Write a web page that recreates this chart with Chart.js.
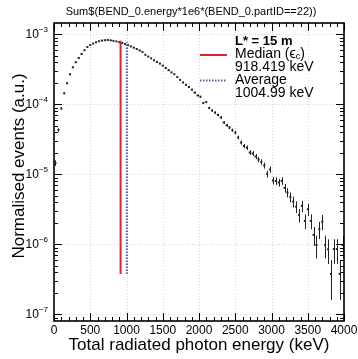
<!DOCTYPE html>
<html>
<head>
<meta charset="utf-8">
<script src="https://cdn.jsdelivr.net/npm/chart.js@4.4.1/dist/chart.umd.min.js"></script>
<style>
  html, body { margin: 0; padding: 0; background: #fff; }
  #c { display: block; }
</style>
</head>
<body>
<canvas id="c" width="358" height="359"></canvas>
<script>
// histogram: 100 bins of 40 keV, 0..4000 keV
const binWidth = 40;
const binValues = [
  1.46e-5, 4.32e-5, 8.77e-5, 1.445e-4, 2.01e-4, 2.70e-4, 3.40e-4, 4.01e-4, 4.62e-4, 5.27e-4,
  5.95e-4, 6.63e-4, 7.08e-4, 7.44e-4, 7.74e-4, 8.00e-4, 8.18e-4, 8.29e-4, 8.35e-4, 8.24e-4,
  8.10e-4, 7.97e-4, 7.79e-4, 7.56e-4, 7.32e-4, 7.03e-4, 6.76e-4, 6.48e-4, 6.21e-4, 5.91e-4,
  5.62e-4, 5.13e-4, 4.83e-4, 4.56e-4, 4.28e-4, 4.05e-4, 3.84e-4, 3.59e-4, 3.32e-4, 3.09e-4,
  2.87e-4, 2.71e-4, 2.47e-4, 2.25e-4, 2.06e-4, 1.91e-4, 1.78e-4, 1.63e-4, 1.48e-4, 1.345e-4,
  1.29e-4, 1.05e-4, 1.085e-4, 8.91e-5, 8.20e-5, 7.66e-5, 7.08e-5, 6.52e-5, 5.53e-5, 5.04e-5,
  4.68e-5, 4.29e-5, 3.97e-5, 3.38e-5, 2.86e-5, 2.55e-5, 2.41e-5, 2.06e-5, 2.00e-5, 1.81e-5,
  1.64e-5, 1.51e-5, 1.345e-5, 1.02e-5, 1.18e-5, 8.2e-6, 8.07e-6, 7.69e-6, 8.1e-6, 6.41e-6,
  5.53e-6, 4.77e-6, 4.09e-6, 3.47e-6, 2.64e-6, 3.55e-6, 2.17e-6, 3.18e-6, 2.17e-6, 1.37e-6,
  9.84e-7, 1.65e-6, 2.12e-6, 9.84e-7, 8.54e-7, 3.79e-7, 8.6e-7, 8.6e-7, 3.79e-7, 9.84e-7
];
const eventWeight = 1.26e-7;   // weight of one entry, for sqrt(N) errors

const medianE = 918.419;
const averageE = 1004.99;
const medianSpan = [3.79e-7, 8.16e-4];
const averageSpan = [3.79e-7, 7.74e-4];

const xRange = [0, 4000];
const yRange = [8.07e-8, 1.459e-3];
const xMajor = [0, 500, 1000, 1500, 2000, 2500, 3000, 3500, 4000];
const xMinorStep = 100;
const yDecades = [-7, -6, -5, -4, -3];

const titleText = 'Sum$(BEND_0.energy*1e6*(BEND_0.partID==22))';
const xTitle = 'Total radiated photon energy (keV)';
const yTitle = 'Normalised events (a.u.)';
const FONT = '"Liberation Sans", Arial, Helvetica, sans-serif';

const points = binValues.map((v, i) => ({x: (i + 0.5) * binWidth, y: v}));

// ROOT-like frame, grid, ticks and texts
const rootStyle = {
  id: 'rootStyle',
  beforeDatasetsDraw(chart) {
    const {ctx, chartArea: a, scales: {x, y}} = chart;
    ctx.save();
    ctx.strokeStyle = '#d4d4d4';
    ctx.lineWidth = 1;
    ctx.setLineDash([1, 2]);
    xMajor.slice(1, -1).forEach(v => {
      const px = Math.round(x.getPixelForValue(v)) + 0.5;
      ctx.beginPath(); ctx.moveTo(px, a.top); ctx.lineTo(px, a.bottom); ctx.stroke();
    });
    yDecades.forEach(e => {
      const py = Math.round(y.getPixelForValue(Math.pow(10, e))) + 0.5;
      ctx.beginPath(); ctx.moveTo(a.left, py); ctx.lineTo(a.right, py); ctx.stroke();
    });
    ctx.setLineDash([]);

    // vertical error bars
    ctx.strokeStyle = '#222';
    ctx.lineWidth = 1;
    ctx.beginPath();
    points.forEach(p => {
      const err = Math.sqrt(p.y * eventWeight);
      const px = Math.round(x.getPixelForValue(p.x)) + 0.5;
      const top = y.getPixelForValue(p.y + err);
      const bot = p.y - err > 0 ? y.getPixelForValue(p.y - err) : a.bottom;
      ctx.moveTo(px, top); ctx.lineTo(px, Math.min(bot, a.bottom));
    });
    ctx.stroke();
    ctx.restore();
  },
  afterDraw(chart) {
    const {ctx, chartArea: a, scales: {x, y}} = chart;
    ctx.save();
    ctx.strokeStyle = '#000';
    ctx.fillStyle = '#000';

    // ticks
    ctx.lineWidth = 1;
    ctx.beginPath();
    for (let v = xRange[0]; v <= xRange[1]; v += xMinorStep) {
      const px = Math.round(x.getPixelForValue(v)) + 0.5;
      const len = v % 500 === 0 ? 8 : 4;
      ctx.moveTo(px, a.bottom); ctx.lineTo(px, a.bottom - len);
      ctx.moveTo(px, a.top); ctx.lineTo(px, a.top + len);
    }
    for (let e = -8; e <= -3; e++) {
      for (let m = 1; m <= 9; m++) {
        const v = m * Math.pow(10, e);
        if (v < yRange[0] || v > yRange[1]) continue;
        const py = Math.round(y.getPixelForValue(v)) + 0.5;
        const len = m === 1 ? 8 : 4;
        ctx.moveTo(a.left, py); ctx.lineTo(a.left + len, py);
        ctx.moveTo(a.right, py); ctx.lineTo(a.right - len, py);
      }
    }
    ctx.stroke();

    // frame
    ctx.lineWidth = 1.6;
    ctx.strokeRect(a.left, a.top, a.right - a.left, a.bottom - a.top);

    // x tick labels
    ctx.font = '12px ' + FONT;
    ctx.textAlign = 'center';
    ctx.textBaseline = 'middle';
    xMajor.forEach(v => ctx.fillText(String(v), x.getPixelForValue(v), a.bottom + 10));

    // y tick labels 10^e
    yDecades.forEach(e => {
      const py = y.getPixelForValue(Math.pow(10, e));
      ctx.font = '8px ' + FONT;
      ctx.textAlign = 'right';
      const sup = '\u2212' + Math.abs(e);
      const right = a.left - 6;
      ctx.fillText(sup, right, py - 5);
      const sw = ctx.measureText(sup).width;
      ctx.font = '12px ' + FONT;
      ctx.fillText('10', right - sw, py);
    });

    // titles
    ctx.textAlign = 'center';
    ctx.font = '11px ' + FONT;
    ctx.fillText(titleText, 191, 12);
    ctx.font = '17px ' + FONT;
    ctx.fillText(xTitle, (a.left + a.right) / 2, 345);
    ctx.save();
    ctx.translate(19, 166);
    ctx.rotate(-Math.PI / 2);
    ctx.fillText(yTitle, 0, 0);
    ctx.restore();

    // legend
    const lx = 235;
    ctx.textAlign = 'left';
    ctx.font = 'bold 13px ' + FONT;
    ctx.fillText('L* = 15 m', lx, 41);
    ctx.font = '14px ' + FONT;
    let t = 'Median (';
    ctx.fillText(t, lx, 54);
    let w = lx + ctx.measureText(t).width;
    ctx.fillText('\u03f5', w, 54);
    w += ctx.measureText('\u03f5').width;
    ctx.font = '9px ' + FONT;
    ctx.fillText('c', w, 57);
    w += ctx.measureText('c').width;
    ctx.font = '14px ' + FONT;
    ctx.fillText(')', w, 54);
    ctx.fillText(medianE + ' keV', lx, 67);
    ctx.fillText('Average', lx, 80);
    ctx.fillText(averageE + ' keV', lx, 93);

    ctx.lineWidth = 2;
    ctx.strokeStyle = '#e3212a';
    ctx.beginPath(); ctx.moveTo(200, 55); ctx.lineTo(227, 55); ctx.stroke();
    ctx.strokeStyle = '#5a5ab8';
    ctx.setLineDash([1.5, 1.5]);
    ctx.beginPath(); ctx.moveTo(200, 80.5); ctx.lineTo(227, 80.5); ctx.stroke();
    ctx.restore();
  }
};

new Chart(document.getElementById('c'), {
  type: 'scatter',
  data: {
    datasets: [
      {
        label: 'hist',
        data: points,
        pointStyle: 'rect',
        pointRadius: 1.4,
        pointHoverRadius: 1.4,
        backgroundColor: '#222',
        borderWidth: 0,
        order: 2
      },
      {
        label: 'Median',
        type: 'line',
        data: [{x: medianE, y: medianSpan[0]}, {x: medianE, y: medianSpan[1]}],
        borderColor: '#e3212a',
        borderWidth: 2,
        pointRadius: 0,
        order: 1
      },
      {
        label: 'Average',
        type: 'line',
        data: [{x: averageE, y: averageSpan[0]}, {x: averageE, y: averageSpan[1]}],
        borderColor: '#5a5ab8',
        borderWidth: 2,
        borderDash: [1.5, 1.5],
        pointRadius: 0,
        order: 1
      }
    ]
  },
  options: {
    responsive: false,
    animation: false,
    devicePixelRatio: 1,
    layout: { padding: { left: 54, right: 14, top: 23, bottom: 38 } },
    scales: {
      x: { type: 'linear', min: xRange[0], max: xRange[1], bounds: 'data', display: false },
      y: { type: 'logarithmic', min: yRange[0], max: yRange[1], bounds: 'data', display: false }
    },
    plugins: {
      legend: { display: false },
      tooltip: { enabled: false }
    }
  },
  plugins: [rootStyle]
});
</script>
</body>
</html>
